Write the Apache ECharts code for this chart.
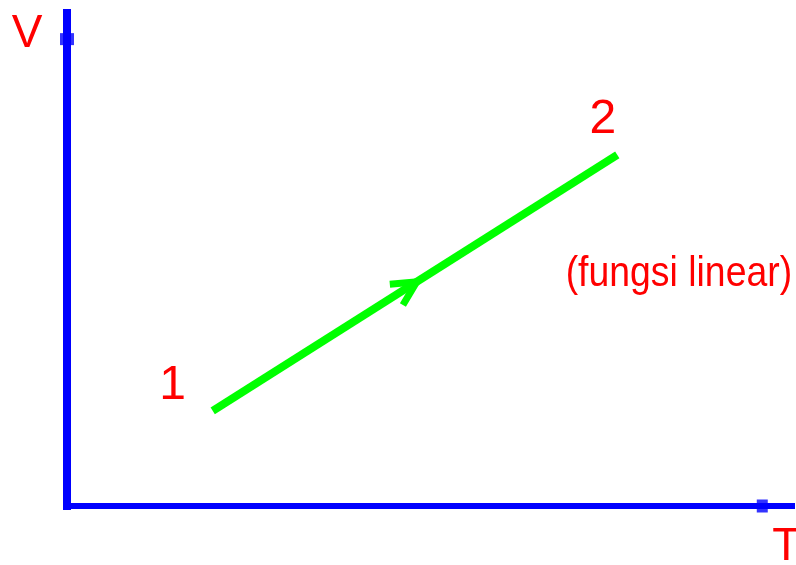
<!DOCTYPE html>
<html><head><meta charset="utf-8">
<script src="https://cdn.jsdelivr.net/npm/echarts@6/dist/echarts.min.js"></script>
<style>html,body{margin:0;padding:0;background:#fff}#c{width:796px;height:565px}</style>
</head><body><div id="c"></div>
<script>
// Process 1 -> 2 on a V-T diagram (values in arbitrary axis units 0..100)
const processPoints = [[20.1, 19.3], [75.9, 71.2]];
// small square marks on the axes
const axisMarkPoints = [[0, 94.7], [95.9, 0]];
// text labels and their anchor in data coordinates
const labelTexts = ['V', 'T', '1', '2', '(fungsi linear)'];
const labelPositions = [[-5.5, 95.6], [99.2, -8.3], [14.55, 24.4], [73.9, 78.3], [84.4, 46.9]];

const BLUE = '#0000ff', GREEN = '#00ff00', RED = '#ff0000';
const FONT = 'Liberation Sans, Arial, sans-serif';
const labelStyles = [
  {fontSize: 46, scaleX: 1},
  {fontSize: 46, scaleX: 1},
  {fontSize: 48, scaleX: 1},
  {fontSize: 48, scaleX: 1},
  {fontSize: 42, scaleX: 0.89}
];
const markSizes = [[14, 12], [11, 13]];

const chart = echarts.init(document.getElementById('c'), null, {renderer: 'canvas'});
chart.setOption({
  animation: false,
  backgroundColor: '#ffffff',
  grid: {left: 67, right: 4, top: 13, bottom: 59, containLabel: false, outerBoundsMode: 'none'},
  xAxis: {
    type: 'value', min: 0, max: 100,
    axisLine: {show: true, onZero: false, lineStyle: {color: BLUE, width: 6, cap: 'square'}},
    axisTick: {show: false}, axisLabel: {show: false}, splitLine: {show: false}
  },
  yAxis: {
    type: 'value', min: 0, max: 100,
    axisLine: {show: true, onZero: false, lineStyle: {color: BLUE, width: 8, cap: 'square'}},
    axisTick: {show: false}, axisLabel: {show: false}, splitLine: {show: false}
  },
  series: [
    {
      type: 'line', data: processPoints, symbol: 'none', z: 2,
      lineStyle: {color: GREEN, width: 8}
    },
    {
      type: 'scatter', z: 3,
      data: axisMarkPoints.map((p, i) => ({value: p, symbolSize: markSizes[i]})),
      symbol: 'rect', itemStyle: {color: BLUE}
    },
    {
      type: 'custom', z: 4,
      data: [processPoints[0].concat(processPoints[1])],
      encode: {x: [0, 2], y: [1, 3]},
      renderItem: function (params, api) {
        const a = api.coord([api.value(0), api.value(1)]);
        const b = api.coord([api.value(2), api.value(3)]);
        const dx = b[0] - a[0], dy = b[1] - a[1];
        const len = Math.sqrt(dx * dx + dy * dy);
        const ux = dx / len, uy = dy / len;
        const tip = [(a[0] + b[0]) / 2 + ux * 2, (a[1] + b[1]) / 2 + uy * 2];
        const ang = 27 * Math.PI / 180, L = 27;
        function barb(s) {
          const c = Math.cos(s * ang), si = Math.sin(s * ang);
          const rx = -ux * c + uy * si, ry = -ux * si - uy * c;
          return [tip[0] + rx * L, tip[1] + ry * L];
        }
        return {
          type: 'polyline',
          shape: {points: [barb(1), tip, barb(-1)]},
          style: {stroke: GREEN, lineWidth: 7, fill: null, lineJoin: 'miter'}
        };
      }
    },
    {
      type: 'custom', z: 5,
      data: labelPositions,
      renderItem: function (params, api) {
        const i = params.dataIndex;
        const p = api.coord([api.value(0), api.value(1)]);
        const st = labelStyles[i];
        return {
          type: 'text', x: p[0], y: p[1], scaleX: st.scaleX,
          style: {
            text: labelTexts[i], x: 0, y: 0, fill: RED,
            font: 'normal ' + st.fontSize + 'px ' + FONT,
            align: 'center', verticalAlign: 'middle'
          }
        };
      }
    }
  ]
});
</script>
</body></html>
